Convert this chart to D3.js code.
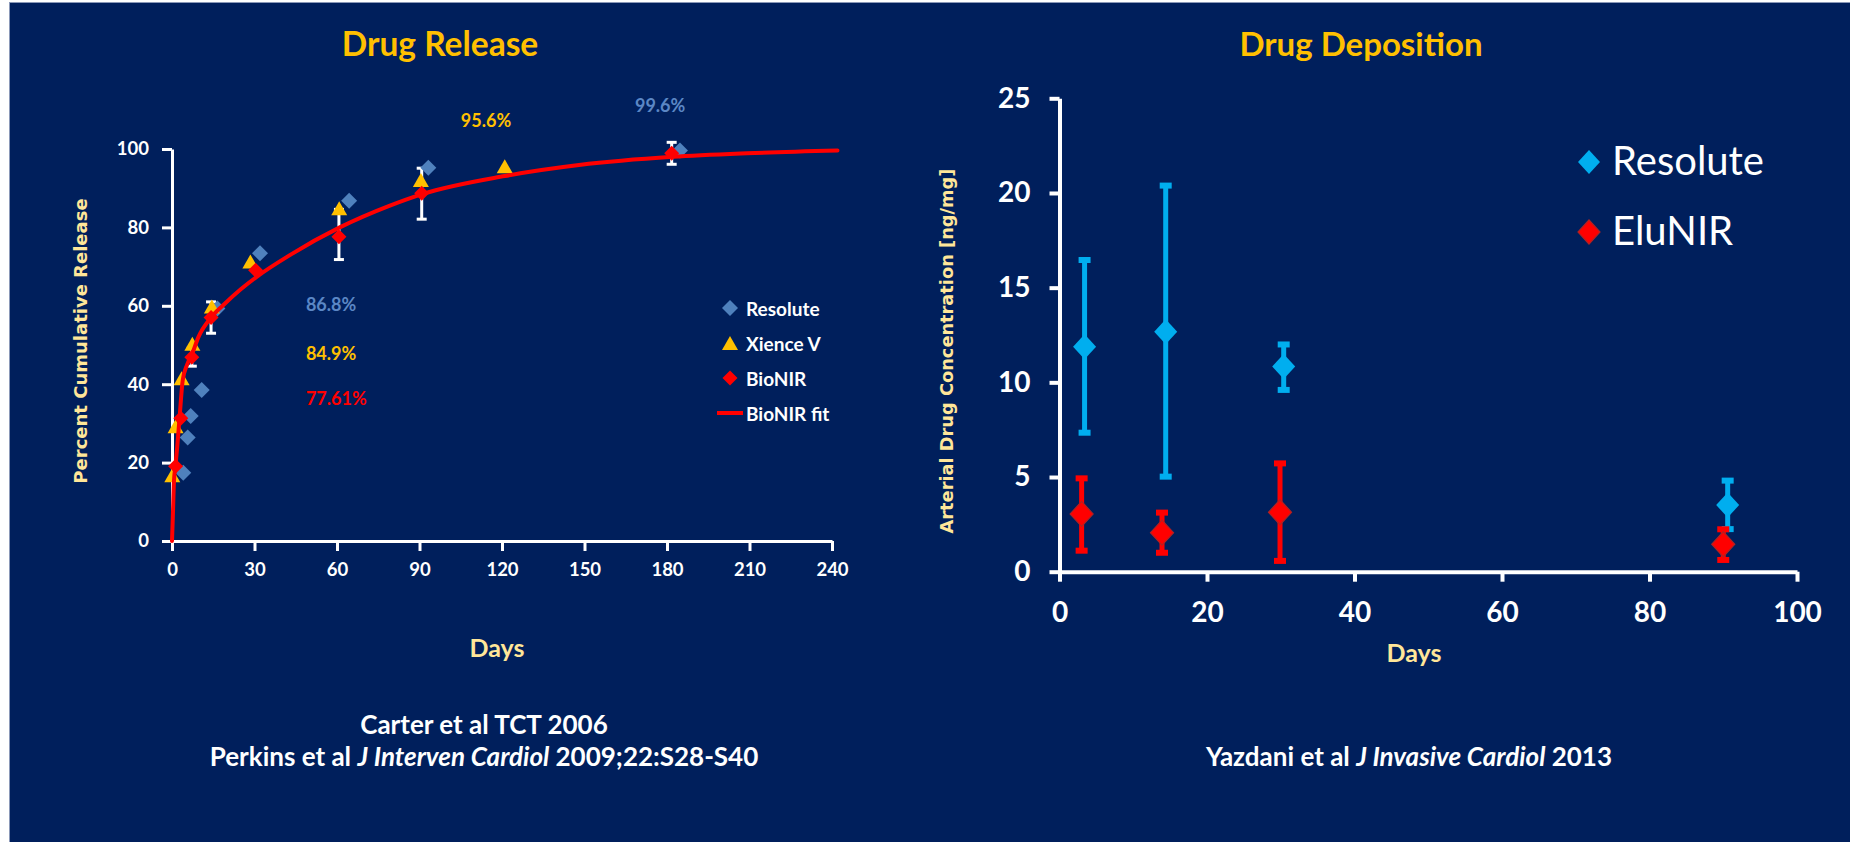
<!DOCTYPE html>
<html>
<head>
<meta charset="utf-8">
<script src="https://cdn.jsdelivr.net/npm/d3@7"></script>
<style>
  html, body { margin: 0; padding: 0; background: #ffffff; }
  svg { display: block; }
</style>
</head>
<body>
<svg id="chart" width="1850" height="842"></svg>
<script>
// ---------- Drug Release panel: cumulative release (%) by day ----------
const releaseTicksX = [0, 30, 60, 90, 120, 150, 180, 210, 240];
const releaseTicksY = [0, 20, 40, 60, 80, 100];

// [day, percent]
const resoluteRelease = [[4.1, 17.4], [5.7, 26.4], [6.8, 31.9], [10.8, 38.5], [16.5, 59.3],
                         [32, 73.4], [64.4, 86.8], [93.2, 95.2], [184.7, 99.6]];
const xienceRelease   = [[0.1, 16.8], [1.3, 29.3], [3.5, 41.5], [7.4, 50.3], [14.5, 59.8],
                         [28.5, 71.3], [60.8, 84.9], [90.5, 92.1], [121, 95.6]];
const bionirRelease   = [[1.3, 19.1], [3.2, 31.3], [7.2, 46.9], [14.2, 57.0], [30.4, 69.1],
                         [60.7, 77.61], [90.8, 88.7], [181.7, 98.9]];
// [day, low, high]
const bionirReleaseErr = [[7.2, 44.6, 49.2], [14.2, 53.0, 61.0], [60.7, 71.8, 84.6],
                          [90.8, 82.1, 95.1], [181.7, 96.1, 101.7]];
// fitted release curve, [day, percent]
const bionirFit = [[0, 0], [0.3, 6], [0.7, 15], [1.3, 19.5], [1.9, 24], [2.7, 31], [3.9, 41],
                   [5.5, 45], [7.2, 47.5], [9.6, 52], [14.2, 57], [18.7, 60.2], [25, 64.2],
                   [30.8, 67.4], [43, 73], [61, 80], [79, 85.5], [91, 88.5], [121, 93.1],
                   [148, 95.9], [182, 98], [209, 98.9], [242, 99.6]];

// ---------- Drug Deposition panel: arterial concentration (ng/mg) ----------
const depositionTicksX = [0, 20, 40, 60, 80, 100];
const depositionTicksY = [0, 5, 10, 15, 20, 25];

const resoluteDays = [3.4, 14.4, 30.4, 90.6];
const resoluteConc = [11.88, 12.67, 10.83, 3.52];
const resoluteLow  = [7.34, 5.02, 9.6, 2.25];
const resoluteHigh = [16.46, 20.39, 12.0, 4.81];

const elunirDays = [3.0, 13.9, 29.9, 90.0];
const elunirConc = [3.05, 2.06, 3.14, 1.45];
const elunirLow  = [1.11, 1.0, 0.57, 0.62];
const elunirHigh = [4.93, 3.12, 5.72, 2.24];

// ---------- styles ----------
const NAVY = "#001F5C";
const GOLD = "#FFC000";
const PALE = "#FFE699";
const STEEL = "#4F81BD";
const RED = "#FF0000";
const CYAN = "#00AEEF";
const UI = "Lato, 'Open Sans', sans-serif";
const AXISFONT = "'DejaVu Sans', Verdana, sans-serif";

const svg = d3.select("#chart");

// slide background with thin frame
svg.append("rect").attr("x", 9.5).attr("y", 2.5).attr("width", 1850).attr("height", 850)
  .attr("fill", NAVY).attr("stroke", "#8a98b8").attr("stroke-width", 1);

const diamond = (w, h) => `M0,${-h / 2}L${w / 2},0L0,${h / 2}L${-w / 2},0Z`;
const triangle = (w, h) => `M0,${-h / 2}L${w / 2},${h / 2}L${-w / 2},${h / 2}Z`;

function styleAxis(g, width, fontSize) {
  g.select(".domain").attr("stroke", "#fff").attr("stroke-width", width);
  g.selectAll(".tick line").attr("stroke", "#fff").attr("stroke-width", width);
  g.selectAll(".tick text").attr("fill", "#fff").attr("font-family", UI)
    .attr("font-weight", 700).attr("font-size", fontSize);
}

// ================= Drug Release =================
const xR = d3.scaleLinear().domain([0, 240]).range([172, 832]);
const yR = d3.scaleLinear().domain([0, 100]).range([541, 149]);

const gR = svg.append("g");

gR.append("text").attr("x", 440).attr("y", 56).attr("text-anchor", "middle")
  .attr("font-family", UI).attr("font-weight", 700).attr("font-size", 33.5)
  .attr("fill", GOLD).text("Drug Release");

gR.append("g").attr("transform", `translate(0,${yR(0)})`)
  .call(d3.axisBottom(xR).tickValues(releaseTicksX).tickSize(10).tickSizeOuter(0).tickPadding(12))
  .call(g => styleAxis(g, 3, 18.5));
gR.append("g").attr("transform", `translate(${xR(0)},0)`)
  .call(d3.axisLeft(yR).tickValues(releaseTicksY).tickSize(10).tickSizeOuter(0).tickPadding(13))
  .call(g => styleAxis(g, 3, 18.5));

gR.append("text")
  .attr("transform", `translate(80,${(yR(0) + yR(100)) / 2 - 4}) rotate(-90)`)
  .attr("text-anchor", "middle").attr("dominant-baseline", "central")
  .attr("font-family", AXISFONT).attr("font-weight", 700).attr("font-size", 18)
  .attr("fill", PALE).text("Percent Cumulative Release");

gR.append("text").attr("x", 497).attr("y", 657).attr("text-anchor", "middle")
  .attr("font-family", UI).attr("font-weight", 700).attr("font-size", 25)
  .attr("fill", PALE).text("Days");

// error bars (BioNIR)
const capR = 5;
const errR = gR.append("g").attr("stroke", "#fff").attr("stroke-width", 3);
bionirReleaseErr.forEach(([d, lo, hi]) => {
  errR.append("line").attr("x1", xR(d)).attr("x2", xR(d)).attr("y1", yR(lo)).attr("y2", yR(hi));
  [lo, hi].forEach(v => errR.append("line")
    .attr("x1", xR(d) - capR).attr("x2", xR(d) + capR).attr("y1", yR(v)).attr("y2", yR(v)));
});

gR.append("g").selectAll("path").data(resoluteRelease).join("path")
  .attr("d", diamond(16, 16)).attr("fill", STEEL)
  .attr("transform", d => `translate(${xR(d[0])},${yR(d[1])})`);

gR.append("g").selectAll("path").data(xienceRelease).join("path")
  .attr("d", triangle(16, 14)).attr("fill", GOLD)
  .attr("transform", d => `translate(${xR(d[0])},${yR(d[1])})`);

gR.append("path").datum(bionirFit)
  .attr("d", d3.line().x(d => xR(d[0])).y(d => yR(d[1])).curve(d3.curveMonotoneX))
  .attr("fill", "none").attr("stroke", RED).attr("stroke-width", 4).attr("stroke-linecap", "round");

gR.append("g").selectAll("path").data(bionirRelease).join("path")
  .attr("d", diamond(15, 15)).attr("fill", RED)
  .attr("transform", d => `translate(${xR(d[0])},${yR(d[1])})`);

// value call-outs, placed in data space
const callouts = [
  { v: resoluteRelease[6][1], at: [48.7, 60.5], anchor: "start", color: "#5B87C5" },
  { v: xienceRelease[6][1],   at: [48.7, 48.0], anchor: "start", color: GOLD },
  { v: bionirRelease[5][1],   at: [48.7, 36.5], anchor: "start", color: RED },
  { v: xienceRelease[8][1],   at: [114.2, 107.4], anchor: "middle", color: GOLD },
  { v: resoluteRelease[8][1], at: [177.5, 111.2], anchor: "middle", color: "#5B87C5" }
];
gR.append("g").selectAll("text").data(callouts).join("text")
  .attr("x", d => xR(d.at[0])).attr("y", d => yR(d.at[1]))
  .attr("text-anchor", d => d.anchor).attr("dominant-baseline", "central")
  .attr("font-family", UI).attr("font-weight", 700).attr("font-size", 18)
  .attr("fill", d => d.color).text(d => `${d.v}%`);

// legend
const legR = gR.append("g").attr("font-family", UI).attr("font-weight", 700)
  .attr("font-size", 19).attr("fill", "#fff");
const legRItems = [
  { label: "Resolute", y: 308, draw: g => g.append("path").attr("d", diamond(16, 16)).attr("fill", STEEL) },
  { label: "Xience V", y: 343, draw: g => g.append("path").attr("d", triangle(16, 14)).attr("fill", GOLD) },
  { label: "BioNIR", y: 378, draw: g => g.append("path").attr("d", diamond(15, 15)).attr("fill", RED) },
  { label: "BioNIR fit", y: 413, draw: g => g.append("line").attr("x1", -13).attr("x2", 13)
      .attr("stroke", RED).attr("stroke-width", 4) }
];
legRItems.forEach(it => {
  const g = legR.append("g").attr("transform", `translate(730,${it.y})`);
  it.draw(g);
  g.append("text").attr("x", 16).attr("dominant-baseline", "central").text(it.label);
});

// references
const refL = gR.append("g").attr("font-family", UI).attr("font-weight", 700)
  .attr("font-size", 26).attr("fill", "#fff").attr("text-anchor", "middle");
refL.append("text").attr("x", 484).attr("y", 734).text("Carter et al TCT 2006");
const perk = refL.append("text").attr("x", 484).attr("y", 766);
perk.append("tspan").text("Perkins et al ");
perk.append("tspan").attr("font-style", "italic").text("J Interven Cardiol");
perk.append("tspan").text(" 2009;22:S28-S40");

// ================= Drug Deposition =================
const xD = d3.scaleLinear().domain([0, 100]).range([1059.5, 1797]);
const yD = d3.scaleLinear().domain([0, 25]).range([571.7, 98.3]);

const gD = svg.append("g");

gD.append("text").attr("x", 1361).attr("y", 56).attr("text-anchor", "middle")
  .attr("font-family", UI).attr("font-weight", 700).attr("font-size", 33)
  .attr("fill", GOLD).text("Drug Deposition");

gD.append("g").attr("transform", `translate(0,${yD(0)})`)
  .call(d3.axisBottom(xD).tickValues(depositionTicksX).tickSize(10).tickSizeOuter(0).tickPadding(20))
  .call(g => styleAxis(g, 4, 28));
gD.append("g").attr("transform", `translate(${xD(0)},0)`)
  .call(d3.axisLeft(yD).tickValues(depositionTicksY).tickSize(10).tickSizeOuter(0).tickPadding(19))
  .call(g => styleAxis(g, 4, 28));

gD.append("text")
  .attr("transform", `translate(946,351) rotate(-90)`)
  .attr("text-anchor", "middle").attr("dominant-baseline", "central")
  .attr("font-family", AXISFONT).attr("font-weight", 700).attr("font-size", 17.8)
  .attr("fill", PALE).text("Arterial Drug Concentration [ng/mg]");

gD.append("text").attr("x", 1414).attr("y", 662).attr("text-anchor", "middle")
  .attr("font-family", UI).attr("font-weight", 700).attr("font-size", 25)
  .attr("fill", PALE).text("Days");

function depositionSeries(days, conc, low, high, color, edge) {
  const g = gD.append("g");
  const eb = g.append("g").attr("stroke", color);
  days.forEach((d, i) => {
    eb.append("line").attr("x1", xD(d)).attr("x2", xD(d))
      .attr("y1", yD(low[i])).attr("y2", yD(high[i])).attr("stroke-width", 5);
    [low[i], high[i]].forEach(v => eb.append("line")
      .attr("x1", xD(d) - 6).attr("x2", xD(d) + 6).attr("y1", yD(v)).attr("y2", yD(v))
      .attr("stroke-width", 6));
  });
  g.append("g").selectAll("path").data(days).join("path")
    .attr("d", diamond(23, 25)).attr("fill", color)
    .attr("stroke", edge).attr("stroke-width", edge === "none" ? 0 : 1.2)
    .attr("transform", (d, i) => `translate(${xD(d)},${yD(conc[i])})`);
}
depositionSeries(resoluteDays, resoluteConc, resoluteLow, resoluteHigh, CYAN, "none");
depositionSeries(elunirDays, elunirConc, elunirLow, elunirHigh, RED, "#B22222");

const legD = gD.append("g").attr("font-family", UI).attr("font-size", 40).attr("fill", "#fff");
[{ label: "Resolute", y: 162, fill: CYAN, edge: "none" },
 { label: "EluNIR", y: 232, fill: RED, edge: "#B22222" }].forEach(it => {
  const g = legD.append("g").attr("transform", `translate(1589,${it.y})`);
  g.append("path").attr("d", diamond(22, 24)).attr("fill", it.fill)
    .attr("stroke", it.edge).attr("stroke-width", it.edge === "none" ? 0 : 1.2);
  g.append("text").attr("x", 23).attr("y", 13).text(it.label);
});

const refR = gD.append("text").attr("x", 1409).attr("y", 766).attr("text-anchor", "middle")
  .attr("font-family", UI).attr("font-weight", 700).attr("font-size", 26).attr("fill", "#fff");
refR.append("tspan").text("Yazdani et al ");
refR.append("tspan").attr("font-style", "italic").text("J Invasive Cardiol");
refR.append("tspan").text(" 2013");
</script>
</body>
</html>
